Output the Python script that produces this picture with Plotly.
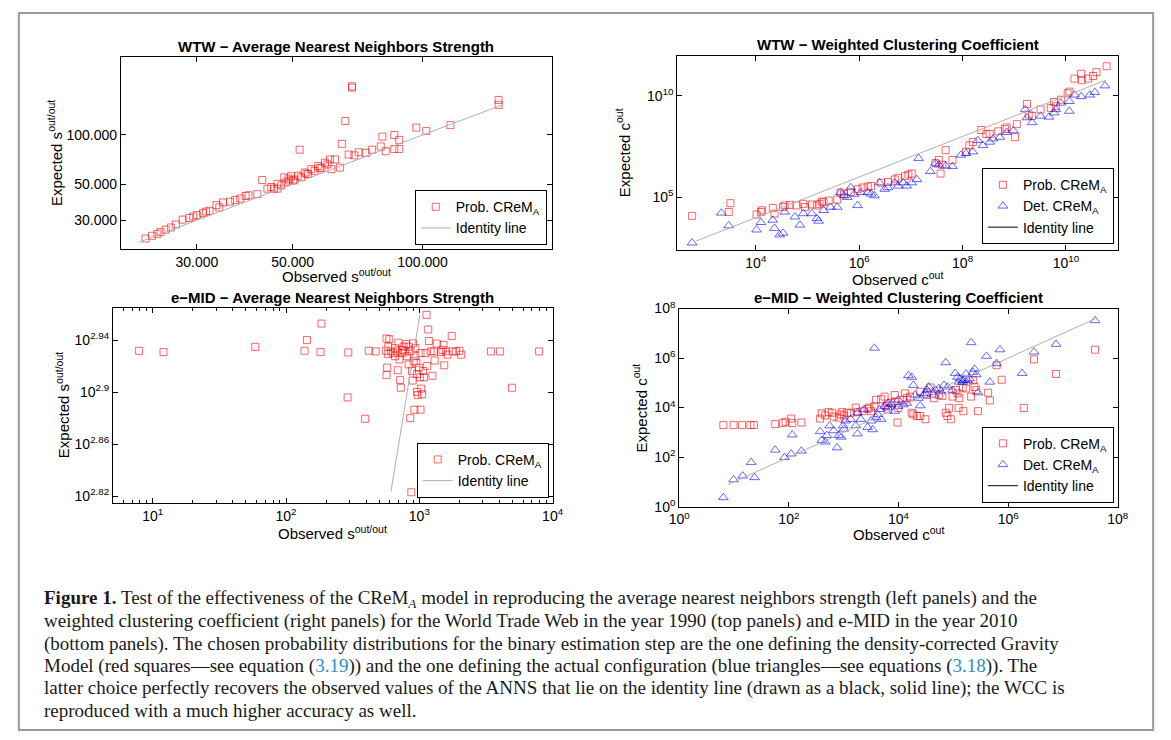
import numpy as np
import plotly.graph_objects as go

# ---------------- data ----------------
# WTW - average nearest neighbours strength (values)
wtw_anns_obs = [22800, 23600, 24700, 26100, 26800, 27800, 28800, 30000, 31000, 32100,
                33300, 34500, 35800, 37800, 39500, 41400, 42500, 43700, 45300, 46100,
                47800, 49600, 51400, 53300, 55200, 57300, 59400, 61000, 62700, 65000,
                66200, 68600, 68600, 67400, 71100, 73800, 76400, 80000, 80700, 82200,
                86000, 86000, 88300, 88300, 96700, 102000, 116000, 150000, 150000, 51900,
                61500, 64400, 49100, 46100, 47000, 48300, 50500, 52300, 54300, 56200,
                58300, 29400, 36800, 38900, 25400, 24300, 31500, 33800, 44600, 48900,
                50100, 53800, 57800, 60200, 69500]
wtw_anns_exp = [23200, 24100, 25400, 27100, 28300, 30300, 31000, 32300, 33200, 34300,
                37200, 38600, 39000, 40800, 42700, 43400, 53000, 46900, 46900, 50200,
                55000, 55800, 56300, 58900, 61700, 64600, 67700, 70800, 70800, 88300,
                121800, 199000, 195000, 75900, 78400, 77700, 81300, 85100, 97700, 79500,
                100000, 82100, 93300, 82100, 111000, 106000, 115000, 164000, 153000, 81300,
                61700, 63100, 52600, 46900, 49100, 51300, 53300, 55000, 57600, 60300,
                63100, 31700, 39900, 42300, 26300, 24800, 33900, 36000, 48000, 54000,
                52500, 57900, 62500, 66000, 75000]
wtw_anns_identity = [22000, 152000]

# WTW - weighted clustering coefficient (log10 of values)
wtw_wcc_prob_obs_log10 = [2.767, 3.508, 3.475, 4.013, 4.098, 4.118, 4.328, 4.361, 4.525, 4.557,
                          4.656, 4.787, 4.918, 4.951, 5.082, 5.180, 5.233, 5.279, 5.311, 5.410,
                          5.574, 5.639, 5.705, 5.836, 5.967, 6.066, 6.164, 6.230, 6.426, 6.557,
                          6.689, 6.754, 6.885, 6.951, 7.016, 7.475, 7.541, 7.574, 7.607, 7.672,
                          7.803, 8.066, 8.131, 8.197, 8.361, 8.459, 8.525, 8.689, 8.820, 8.852,
                          9.016, 9.049, 9.246, 9.279, 9.344, 9.508, 9.705, 9.770, 9.803, 9.902,
                          10.033, 10.066, 10.164, 10.295, 10.308, 10.426, 10.525, 10.590, 10.787]
wtw_wcc_prob_exp_log10 = [4.087, 4.712, 4.279, 4.151, 4.279, 4.359, 4.471, 4.199, 4.519, 4.599,
                          4.631, 4.599, 4.679, 4.519, 4.647, 4.599, 4.679, 4.792, 4.760, 4.840,
                          4.888, 5.240, 5.160, 5.272, 5.401, 5.481, 5.529, 5.561, 5.721, 5.753,
                          5.881, 5.962, 6.042, 6.122, 6.170, 6.683, 6.843, 6.170, 6.603, 7.324,
                          6.843, 7.244, 7.564, 7.724, 8.317, 8.125, 8.125, 8.253, 8.365, 8.446,
                          7.965, 8.606, 9.599, 9.087, 9.006, 9.327, 9.407, 9.696, 9.487, 9.808,
                          10.128, 10.208, 10.849, 11.090, 10.769, 10.849, 10.978, 11.170, 11.458]
wtw_wcc_det_obs_log10 = [2.767, 3.331, 3.475, 4.013, 4.098, 4.328, 4.361, 4.459, 4.525, 4.557,
                         4.754, 4.852, 4.918, 5.082, 5.180, 5.213, 5.311, 5.443, 5.574, 5.639,
                         5.705, 5.770, 5.836, 5.902, 5.967, 6.033, 6.164, 6.230, 6.295, 6.393,
                         6.492, 6.557, 6.689, 6.754, 6.852, 6.918, 7.016, 7.115, 7.148, 7.377,
                         7.475, 7.541, 7.672, 7.803, 7.967, 8.066, 8.197, 8.295, 8.393, 8.525,
                         8.590, 8.721, 8.852, 8.984, 9.213, 9.246, 9.344, 9.508, 9.672, 9.770,
                         9.803, 9.902, 10.066, 10.066, 10.164, 10.295, 10.459, 10.557, 10.754]
wtw_wcc_det_exp_log10 = [2.756, 4.231, 3.606, 3.397, 3.766, 3.878, 3.478, 3.157, 3.237, 4.279,
                         4.038, 3.638, 4.199, 4.199, 3.958, 3.830, 4.359, 4.519, 4.519, 5.240,
                         5.080, 5.000, 5.481, 5.160, 4.599, 5.240, 5.240, 5.160, 5.080, 5.721,
                         5.401, 5.481, 5.721, 5.561, 5.721, 5.561, 5.721, 5.881, 6.923, 6.282,
                         6.683, 6.603, 6.554, 6.522, 7.083, 7.163, 7.244, 7.804, 7.564, 7.724,
                         7.885, 7.965, 8.205, 8.285, 9.327, 8.926, 8.686, 9.006, 8.958, 9.167,
                         9.327, 9.647, 9.728, 9.247, 10.048, 9.968, 10.048, 10.176, 10.497]
wtw_wcc_identity_log10 = [2.84, 10.78]

# e-MID - average nearest neighbours strength (log10 of values)
emid_anns_obs_log10 = [0.898, 1.081, 1.770, 2.139, 2.157, 2.259, 2.266, 2.467, 2.462, 2.594,
                       2.620, 2.673, 2.749, 2.754, 2.759, 2.754, 2.767, 2.775, 2.787, 2.805,
                       2.818, 2.831, 2.838, 2.843, 2.851, 2.856, 2.861, 2.876, 2.882, 2.894,
                       2.902, 2.907, 2.920, 2.932, 2.932, 2.940, 2.945, 2.950, 2.953, 2.958,
                       2.963, 2.971, 2.971, 2.978, 2.983, 2.988, 2.996, 3.004, 3.009, 3.009,
                       3.014, 3.021, 3.029, 3.047, 3.054, 3.059, 3.067, 3.072, 3.098, 3.110,
                       3.115, 3.131, 3.161, 3.174, 3.182, 3.187, 3.199, 3.212, 3.243, 3.250,
                       3.276, 3.301, 3.314, 3.265, 3.537, 3.606, 3.695, 3.899, 2.767, 2.818,
                       2.920, 2.983, 3.034, 2.869, 3.085]
emid_anns_exp_log10 = [2.9318, 2.9308, 2.9348, 2.9318, 2.9400, 2.9308, 2.9527, 2.9305, 2.8959, 2.8795,
                       2.9318, 2.9313, 2.9318, 2.9412, 2.9188, 2.9131, 2.9350, 2.9407, 2.9313, 2.9300,
                       2.9338, 2.9313, 2.9168, 2.9380, 2.9251, 2.9094, 2.9034, 2.9325, 2.9350, 2.9313,
                       2.9370, 2.9276, 2.9350, 2.9313, 2.8800, 2.8230, 2.9163, 2.9089, 2.9375, 2.9238,
                       2.8865, 2.9338, 2.9276, 2.9226, 2.9002, 2.8977, 2.9188, 2.9114, 2.8865, 2.9300,
                       2.9027, 2.8984, 2.9163, 2.9300, 2.9594, 2.9201, 2.9482, 2.9393, 2.9126, 2.9313,
                       2.9243, 2.9373, 2.9308, 2.9325, 2.9363, 2.9206, 2.9313, 2.9288, 2.9432, 2.9313,
                       2.9313, 2.9318, 2.9288, 2.8544, 2.9313, 2.9313, 2.9034, 2.9313, 2.9293, 2.9276,
                       2.9213, 2.9139, 2.9114, 2.9300, 2.9313]
emid_anns_identity_x_log10 = [2.787, 3.004]
emid_anns_identity_y_log10 = [2.8235, 2.9594]

# e-MID - weighted clustering coefficient (log10 of values)
emid_wcc_prob_obs_log10 = [0.805, 0.991, 1.146, 1.300, 1.362, 1.752, 1.889, 1.938, 2.043, 2.062,
                           2.229, 2.570, 2.601, 2.663, 2.724, 2.786, 2.817, 2.910, 2.941, 2.972,
                           3.003, 3.065, 3.220, 3.251, 3.344, 3.437, 3.467, 3.498, 3.560, 3.591,
                           3.746, 3.777, 3.808, 3.870, 3.932, 3.981, 3.994, 4.087, 4.149, 4.211,
                           4.241, 4.272, 4.334, 4.396, 4.489, 4.520, 4.582, 4.644, 4.737, 4.799,
                           4.861, 4.892, 4.923, 4.954, 4.985, 5.077, 5.096, 5.108, 5.170, 5.183,
                           5.232, 5.325, 5.356, 5.387, 5.418, 5.449, 5.635, 5.666, 5.789, 5.882,
                           6.285, 6.471, 6.873, 7.585, 3.127, 4.118, 4.396, 5.046, 3.932, 3.684]
emid_wcc_prob_exp_log10 = [3.294, 3.294, 3.294, 3.294, 3.294, 3.333, 3.373, 3.425, 3.556, 3.373,
                           3.399, 3.556, 3.765, 3.686, 3.817, 3.791, 3.634, 3.595, 3.725, 3.817,
                           3.686, 3.791, 4.000, 3.817, 3.856, 3.948, 4.000, 3.856, 4.052, 4.314,
                           4.444, 4.078, 3.922, 4.183, 4.248, 3.399, 3.987, 4.314, 4.379, 4.444,
                           3.791, 3.725, 3.660, 3.660, 3.529, 4.510, 4.810, 4.379, 4.510, 4.471,
                           3.791, 3.660, 3.987, 3.529, 4.444, 4.575, 3.987, 4.379, 4.810, 3.856,
                           4.771, 4.444, 5.098, 4.837, 4.706, 3.856, 4.601, 4.288, 5.712, 5.124,
                           3.987, 5.948, 5.359, 6.340, 3.791, 4.575, 4.641, 4.706, 4.510, 4.340]
emid_wcc_det_obs_log10 = [0.805, 0.991, 1.158, 1.313, 1.375, 1.752, 1.920, 2.043, 2.062, 2.229,
                          2.570, 2.601, 2.663, 2.693, 2.743, 2.817, 2.879, 2.910, 2.954, 2.991,
                          3.003, 3.034, 3.220, 3.251, 3.313, 3.437, 3.498, 3.529, 3.560, 3.591,
                          3.622, 3.653, 3.684, 3.746, 3.808, 3.870, 3.932, 3.994, 4.087, 4.149,
                          4.180, 4.241, 4.272, 4.303, 4.365, 4.396, 4.458, 4.520, 4.551, 4.644,
                          4.737, 4.768, 4.830, 4.861, 4.892, 4.985, 5.034, 5.077, 5.108, 5.121,
                          5.170, 5.201, 5.232, 5.263, 5.294, 5.325, 5.356, 5.387, 5.418, 5.449,
                          5.604, 5.666, 5.789, 5.851, 6.254, 6.471, 6.873, 7.585, 3.127, 3.251,
                          3.375, 3.808, 3.994, 4.489, 4.675, 5.170]
emid_wcc_det_exp_log10 = [0.366, 1.085, 1.242, 1.791, 1.176, 2.288, 1.987, 2.131, 2.902, 2.248,
                          3.033, 2.680, 2.614, 2.876, 3.268, 3.072, 2.379, 2.876, 2.810, 3.268,
                          3.137, 3.464, 3.268, 2.941, 3.529, 3.203, 3.464, 3.111, 6.405, 3.595,
                          3.725, 3.922, 3.529, 4.052, 3.987, 4.118, 3.856, 4.052, 4.118, 4.183,
                          5.294, 5.229, 4.902, 4.510, 4.379, 4.078, 4.510, 4.706, 4.837, 4.510,
                          4.771, 4.641, 4.902, 5.817, 4.837, 4.706, 5.386, 5.229, 5.033, 5.163,
                          5.098, 5.124, 5.359, 5.098, 5.163, 6.627, 5.425, 5.556, 5.333, 4.601,
                          6.078, 5.033, 5.778, 6.340, 5.386, 6.248, 6.562, 7.516, 3.529, 3.791,
                          3.922, 4.183, 4.314, 4.575, 4.706, 5.033]
emid_wcc_identity_log10 = [0.885, 7.598]

# tick labels
anns_tick_vals = [30000, 50000, 100000]
anns_tick_text = ["30.000", "50.000", "100.000"]
wtw_wcc_xtick_exp = [4, 6, 8, 10]
wtw_wcc_ytick_exp = [5, 10]
emid_anns_xtick_exp = [1, 2, 3, 4]
emid_anns_ytick_exp = ["2.82", "2.86", "2.9", "2.94"]
emid_wcc_tick_exp = [0, 2, 4, 6, 8]

titles = ["WTW \u2212 Average Nearest Neighbors Strength",
          "WTW \u2212 Weighted Clustering Coefficient",
          "e\u2212MID \u2212 Average Nearest Neighbors Strength",
          "e\u2212MID \u2212 Weighted Clustering Coefficient"]

caption_lines = [
    "<b>Figure 1.</b> Test of the effectiveness of the CReM<sub><i>A</i></sub> model in reproducing the average nearest neighbors strength (left panels) and the",
    "weighted clustering coefficient (right panels) for the World Trade Web in the year 1990 (top panels) and e-MID in the year 2010",
    "(bottom panels). The chosen probability distributions for the binary estimation step are the one defining the density-corrected Gravity",
    "Model (red squares\u2014see equation (<span style='color:#2a8ec8'>3.19</span>)) and the one defining the actual configuration (blue triangles\u2014see equations (<span style='color:#2a8ec8'>3.18</span>)). The",
    "latter choice perfectly recovers the observed values of the ANNS that lie on the identity line (drawn as a black, solid line); the WCC is",
    "reproduced with a much higher accuracy as well.",
]

# ---------------- figure ----------------
W, H = 1171, 740
def fx(px):
    return px / W
def fy(py):
    return 1 - py / H

SANS = "Liberation Sans, Arial, sans-serif"
SERIF = "Liberation Serif, Times New Roman, serif"
RED = "rgba(255,0,0,0.6)"
BLUE = "rgba(0,0,255,0.6)"
GRAY = "#b0b0b0"
PROB = "Prob. CReM<sub>A</sub>"
DET = "Det. CReM<sub>A</sub>"

sq = dict(symbol="square-open", size=7, color=RED, line=dict(width=1))
tri = dict(symbol="triangle-up-open", size=8.5, color=BLUE, line=dict(width=1))

def L(v):
    return 10 ** np.array(v, dtype=float)

fig = go.Figure()

# panel 1
fig.add_trace(go.Scatter(x=wtw_anns_obs, y=wtw_anns_exp, mode="markers", marker=sq,
                         name=PROB, xaxis="x", yaxis="y", legend="legend"))
fig.add_trace(go.Scatter(x=wtw_anns_identity, y=wtw_anns_identity, mode="lines",
                         line=dict(color=GRAY, width=1), name="Identity line",
                         xaxis="x", yaxis="y", legend="legend"))
# panel 2
fig.add_trace(go.Scatter(x=L(wtw_wcc_prob_obs_log10), y=L(wtw_wcc_prob_exp_log10), mode="markers",
                         marker=sq, name=PROB, xaxis="x2", yaxis="y2", legend="legend2"))
fig.add_trace(go.Scatter(x=L(wtw_wcc_det_obs_log10), y=L(wtw_wcc_det_exp_log10), mode="markers",
                         marker=tri, name=DET, xaxis="x2", yaxis="y2", legend="legend2"))
fig.add_trace(go.Scatter(x=L(wtw_wcc_identity_log10), y=L(wtw_wcc_identity_log10), mode="lines",
                         line=dict(color=GRAY, width=1), name="Identity line", showlegend=False,
                         xaxis="x2", yaxis="y2"))
fig.add_trace(go.Scatter(x=[None], y=[None], mode="lines", line=dict(color="black", width=1),
                         name="Identity line", xaxis="x2", yaxis="y2", legend="legend2"))
# panel 3
fig.add_trace(go.Scatter(x=L(emid_anns_obs_log10), y=L(emid_anns_exp_log10), mode="markers",
                         marker=sq, name=PROB, xaxis="x3", yaxis="y3", legend="legend3"))
fig.add_trace(go.Scatter(x=L(emid_anns_identity_x_log10), y=L(emid_anns_identity_y_log10), mode="lines",
                         line=dict(color=GRAY, width=1), name="Identity line",
                         xaxis="x3", yaxis="y3", legend="legend3"))
# panel 4
fig.add_trace(go.Scatter(x=L(emid_wcc_prob_obs_log10), y=L(emid_wcc_prob_exp_log10), mode="markers",
                         marker=sq, name=PROB, xaxis="x4", yaxis="y4", legend="legend4"))
fig.add_trace(go.Scatter(x=L(emid_wcc_det_obs_log10), y=L(emid_wcc_det_exp_log10), mode="markers",
                         marker=tri, name=DET, xaxis="x4", yaxis="y4", legend="legend4"))
fig.add_trace(go.Scatter(x=L(emid_wcc_identity_log10), y=L(emid_wcc_identity_log10), mode="lines",
                         line=dict(color=GRAY, width=1), name="Identity line", showlegend=False,
                         xaxis="x4", yaxis="y4"))
fig.add_trace(go.Scatter(x=[None], y=[None], mode="lines", line=dict(color="black", width=1),
                         name="Identity line", xaxis="x4", yaxis="y4", legend="legend4"))

ax = dict(type="log", showline=True, linecolor="black", linewidth=1, mirror="ticks",
          ticks="inside", ticklen=5, tickcolor="black", tickwidth=1, showgrid=False,
          zeroline=False, tickfont=dict(family=SANS, size=14, color="black"))

def sup(e):
    return "10<sup>%s</sup>" % e

# frames in pixels (left, right, top, bottom)
P1 = (112, 551, 48, 245)
P2 = (679, 1128, 47, 246)
P3 = (104, 552, 305, 505)
P4 = (681, 1128, 306, 509)

def dom(p):
    return dict(x=[fx(p[0]), fx(p[1])], y=[fy(p[3]), fy(p[2])])

minor3 = [m * 10 ** k for k in range(0, 4) for m in range(2, 10)]

fig.update_layout(
    xaxis=dict(ax, domain=dom(P1)["x"], anchor="y", range=[4.301, 5.299],
               tickvals=anns_tick_vals, ticktext=anns_tick_text),
    yaxis=dict(ax, domain=dom(P1)["y"], anchor="x", range=[4.301, 5.479],
               tickvals=anns_tick_vals, ticktext=anns_tick_text),
    xaxis2=dict(ax, domain=dom(P2)["x"], anchor="y2", range=[2.479, 11.003],
                tickvals=[10.0 ** e for e in wtw_wcc_xtick_exp], ticktext=[sup(e) for e in wtw_wcc_xtick_exp]),
    yaxis2=dict(ax, domain=dom(P2)["y"], anchor="x2", range=[2.404, 11.971],
                tickvals=[10.0 ** e for e in wtw_wcc_ytick_exp], ticktext=[sup(e) for e in wtw_wcc_ytick_exp]),
    xaxis3=dict(ax, domain=dom(P3)["x"], anchor="y3", range=[0.7025, 4.0],
                tickvals=[10.0 ** e for e in emid_anns_xtick_exp], ticktext=[sup(e) for e in emid_anns_xtick_exp],
                minor=dict(tickvals=minor3, ticks="inside", ticklen=3, tickcolor="black", showgrid=False)),
    yaxis3=dict(ax, domain=dom(P3)["y"], anchor="x3", range=[2.815, 2.965],
                tickvals=[10.0 ** float(e) for e in emid_anns_ytick_exp], ticktext=[sup(e) for e in emid_anns_ytick_exp]),
    xaxis4=dict(ax, domain=dom(P4)["x"], anchor="y4", range=[0, 8],
                tickvals=[10.0 ** e for e in emid_wcc_tick_exp], ticktext=[sup(e) for e in emid_wcc_tick_exp]),
    yaxis4=dict(ax, domain=dom(P4)["y"], anchor="x4", range=[0, 8],
                tickvals=[10.0 ** e for e in emid_wcc_tick_exp], ticktext=[sup(e) for e in emid_wcc_tick_exp]),
)

leg = dict(bgcolor="white", bordercolor="black", borderwidth=1,
           font=dict(family=SANS, size=14, color="black"),
           xanchor="right", yanchor="bottom", tracegroupgap=0, itemwidth=30)
fig.update_layout(
    legend=dict(leg, x=fx(546), y=fy(241)),
    legend2=dict(leg, x=fx(1124), y=fy(240)),
    legend3=dict(leg, x=fx(548), y=fy(500)),
    legend4=dict(leg, x=fx(1124), y=fy(505)),
)

annots = []
# subplot titles
for t, p, ty in zip(titles, [P1, P2, P3, P4], [37, 35, 295, 295]):
    annots.append(dict(text="<b>%s</b>" % t, x=fx((p[0] + p[1]) / 2), y=fy(ty), xref="paper", yref="paper",
                       showarrow=False, xanchor="center", yanchor="middle",
                       font=dict(family=SANS, size=15, color="black")))
# axis titles
xt = [("Observed s<sup>out/out</sup>", P1, 272), ("Observed c<sup>out</sup>", P2, 275),
      ("Observed s<sup>out/out</sup>", P3, 536), ("Observed c<sup>out</sup>", P4, 537)]
for t, p, ty in xt:
    annots.append(dict(text=t, x=fx((p[0] + p[1]) / 2), y=fy(ty), xref="paper", yref="paper",
                       showarrow=False, xanchor="center", yanchor="middle",
                       font=dict(family=SANS, size=15, color="black")))
yt = [("Expected s<sup>out/out</sup>", P1, 45), ("Expected c<sup>out</sup>", P2, 624),
      ("Expected s<sup>out/out</sup>", P3, 52), ("Expected c<sup>out</sup>", P4, 641)]
for t, p, tx in yt:
    annots.append(dict(text=t, x=fx(tx), y=fy((p[2] + p[3]) / 2), xref="paper", yref="paper",
                       showarrow=False, xanchor="center", yanchor="middle", textangle=-90,
                       font=dict(family=SANS, size=15, color="black")))
# caption
for i, line in enumerate(caption_lines):
    annots.append(dict(text=line, x=fx(32), y=fy(604 + i * 22.7), xref="paper", yref="paper",
                       showarrow=False, xanchor="left", yanchor="middle", align="left",
                       font=dict(family=SERIF, size=19, color="#1a1a1a")))

fig.update_layout(
    annotations=annots,
    shapes=[dict(type="rect", xref="paper", yref="paper", x0=fx(8), x1=fx(1164), y0=fy(738), y1=fy(3),
                 line=dict(color="#9a9a9a", width=2), fillcolor="rgba(0,0,0,0)", layer="below")],
    width=W, height=H, margin=dict(l=0, r=0, t=0, b=0),
    paper_bgcolor="white", plot_bgcolor="white",
)

fig.write_html("out.html", config={"displayModeBar": False},
               post_script="document.body.style.margin='0px';document.body.style.overflow='hidden';")
